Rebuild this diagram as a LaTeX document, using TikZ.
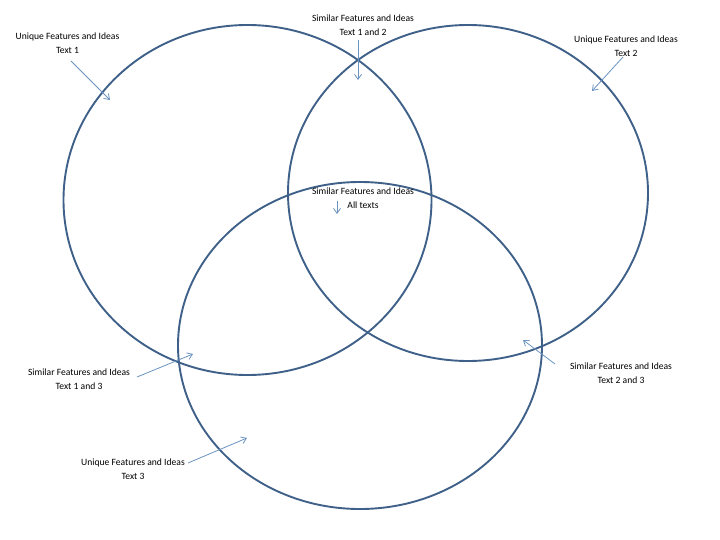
\documentclass[tikz,border=0pt]{standalone}
\usepackage{fontspec}
\setmainfont{Carlito}
\usetikzlibrary{arrows.meta}
\definecolor{ringcol}{HTML}{3F6189}
\definecolor{arrcol}{HTML}{6A93C0}
\begin{document}
\begin{tikzpicture}[x=1pt,y=-1pt,
  ring/.style={draw=ringcol,line width=1.9pt},
  lbl/.style={align=center,font=\fontsize{9.6}{14}\selectfont,inner sep=0pt},
  pointer/.style={draw=arrcol,line width=0.8pt,-{Straight Barb[length=5pt,width=7pt]}}]
\useasboundingbox (0,0) rectangle (720,540);
% circles
\draw[ring] (247.5,200) ellipse [x radius=184, y radius=175];
\draw[ring] (468,193) ellipse [x radius=180, y radius=168];
\draw[ring] (360,345.5) ellipse [x radius=182, y radius=163.5];
% labels
\node[lbl] (t1) at (67.5,43) {Unique Features and Ideas\\Text 1};
\node[lbl] (t12) at (363,25) {Similar Features and Ideas\\Text 1 and 2};
\node[lbl] (t2) at (626,46.5) {Unique Features and Ideas\\Text 2};
\node[lbl] (tall) at (363,198) {Similar Features and Ideas\\All texts};
\node[lbl] (t13) at (79,379) {Similar Features and Ideas\\Text 1 and 3};
\node[lbl] (t23) at (621,373) {Similar Features and Ideas\\Text 2 and 3};
\node[lbl] (t3) at (133,469) {Unique Features and Ideas\\Text 3};
% arrow endpoints
\coordinate (s1) at (71,61);   \coordinate (e1) at (110,100);
\coordinate (s12) at (358,40); \coordinate (e12) at (358,80);
\coordinate (s2) at (623,57);  \coordinate (e2) at (592,91);
\coordinate (sall) at (337,201); \coordinate (eall) at (337,214);
\coordinate (s13) at (137,377); \coordinate (e13) at (193,354);
\coordinate (s23) at (555,364); \coordinate (e23) at (523,340);
\coordinate (s3) at (188,463);  \coordinate (e3) at (247,438);
\draw[pointer] (s1) -- (e1);
\draw[pointer] (s12) -- (e12);
\draw[pointer] (s2) -- (e2);
\draw[pointer] (sall) -- (eall);
\draw[pointer] (s13) -- (e13);
\draw[pointer] (s23) -- (e23);
\draw[pointer] (s3) -- (e3);
\end{tikzpicture}
\end{document}
